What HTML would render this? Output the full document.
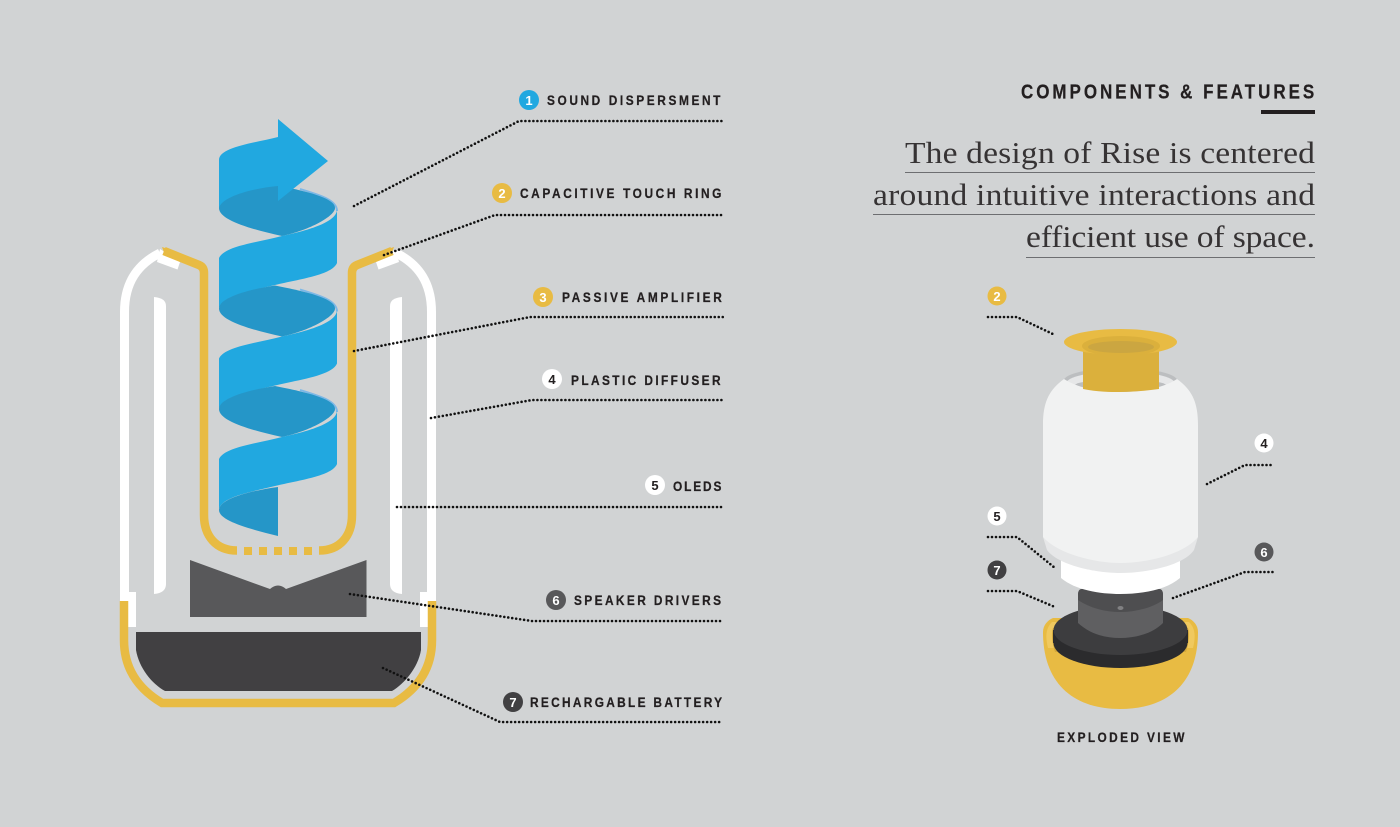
<!DOCTYPE html>
<html><head><meta charset="utf-8"><style>
html,body{margin:0;padding:0;background:#d1d3d4;width:1400px;height:827px;overflow:hidden}
svg{display:block}
.l{font-family:"Liberation Sans",sans-serif;font-weight:700;font-size:14px;fill:#231f20;stroke:#231f20;stroke-width:.25}
.s{font-family:"Liberation Serif",serif;font-size:30.500px;fill:#363334}
.n{font-family:"Liberation Sans",sans-serif;font-weight:700;font-size:13px;text-anchor:middle}
.d{fill:none;stroke:#111;stroke-width:2.6;stroke-linecap:round;stroke-dasharray:0 4}
</style></head><body>
<svg width="1400" height="827" viewBox="0 0 1400 827" xmlns="http://www.w3.org/2000/svg">
<rect width="1400" height="827" fill="#d1d3d4"/>

<!-- white outer shell -->
<g>
<path d="M124.5,601 L124.5,312 C124.5,282 138,264 160,253" fill="none" stroke="#fff" stroke-width="9"/>
<path d="M160,249 L180,262 L177.500,269.500 L157,262 Z" fill="#fff"/>
<path d="M154,297 Q166,298 166,306 L166,584 Q166,593 154,594 Z" fill="#fff"/>
<path d="M120,592 L136,592 L136,627 L127,627 L127,601 L120,601 Z" fill="#fff"/>
</g>
<g>
<path d="M431.500,601 L431.500,312 C431.500,282 418,264 396,253" fill="none" stroke="#fff" stroke-width="9"/>
<path d="M396,249 L376,262 L378.500,269.500 L399,262 Z" fill="#fff"/>
<path d="M402,297 Q390,298 390,306 L390,584 Q390,593 402,594 Z" fill="#fff"/>
<path d="M436,592 L420,592 L420,627 L429,627 L429,601 L436,601 Z" fill="#fff"/>
</g>

<!-- gold inner -->
<path d="M237,550.500 C216,550.500 204,536 204,515 L204,273 Q204,267 199,265 L164,251" fill="none" stroke="#e8bb43" stroke-width="8.500"/>
<path d="M319,550.500 C340,550.500 352,536 352,515 L352,273 Q352,267 357,265 L392,251" fill="none" stroke="#e8bb43" stroke-width="8.500"/>
<path d="M162,247 L168,249 L165,255 Z M394,247 L388,249 L391,255 Z" fill="#e8bb43"/>
<g fill="#e8bb43"><rect x="244" y="547" width="8" height="8"/><rect x="259" y="547" width="8" height="8"/><rect x="274" y="547" width="8" height="8"/><rect x="289" y="547" width="8" height="8"/><rect x="304" y="547" width="8" height="8"/></g>

<!-- gold base -->
<path d="M124,601 L124,640 C124,670 140,690 162,703 L394,703 C416,690 432,670 432,640 L432,601" fill="none" stroke="#e8bb43" stroke-width="8.500"/>

<!-- speaker, battery -->
<path d="M190,560 L270,589 Q278,582 286,589 L366.500,560 L366.500,617 L190,617 Z" fill="#58585a"/>
<path d="M136,632 L421,632 L421,650 C418,668 404,684 392,691 L165,691 C152,684 139,668 136,650 Z" fill="#414042"/>

<!-- spiral -->
<g>
<path d="M300,189 C320,195 337,200 337,211" fill="none" stroke="#7db8e6" stroke-width="2"/>
<path d="M219,208 C219,196 255,188 275,185 C300,190 335,197 335,208 C335,216 310,230 282,236 C250,229 219,220 219,208 Z" fill="#2596c8"/>
<path d="M337,210 C336,222 310,230 282,236 C255,243 225,246 219,258 L219,308 C222,296 250,291 275,285 C300,279 332,275 337,263 Z" fill="#21a8e0"/>
</g>
<g transform="translate(0,100.500)">
<path d="M300,189 C320,195 337,200 337,211" fill="none" stroke="#7db8e6" stroke-width="2"/>
<path d="M219,208 C219,196 255,188 275,185 C300,190 335,197 335,208 C335,216 310,230 282,236 C250,229 219,220 219,208 Z" fill="#2596c8"/>
<path d="M337,210 C336,222 310,230 282,236 C255,243 225,246 219,258 L219,308 C222,296 250,291 275,285 C300,279 332,275 337,263 Z" fill="#21a8e0"/>
</g>
<g transform="translate(0,201)">
<path d="M300,189 C320,195 337,200 337,211" fill="none" stroke="#7db8e6" stroke-width="2"/>
<path d="M219,208 C219,196 255,188 275,185 C300,190 335,197 335,208 C335,216 310,230 282,236 C250,229 219,220 219,208 Z" fill="#2596c8"/>
<path d="M337,210 C336,222 310,230 282,236 C255,243 225,246 219,258 L219,308 C222,296 250,291 275,285 C300,279 332,275 337,263 Z" fill="#21a8e0"/>
</g>
<path d="M219,510 C219,498 255,490 278,487 L278,536 C250,529 219,521 219,510 Z" fill="#2596c8"/>
<path d="M219,208 L219,160 C219,147 255,143 278,137 L278,119 L328,161 L278,201 L278,186 C255,188 222,196 219,208 Z" fill="#21a8e0"/>

<!-- left connectors -->
<path class="d" d="M354,206 L519,121 L723,121"/>
<path class="d" d="M384,255 L495,215 L723,215"/>
<path class="d" d="M354,351 L530,317 L723,317"/>
<path class="d" d="M431,418 L532,400 L723,400"/>
<path class="d" d="M397,507 L723,507"/>
<path class="d" d="M350,594 L532,621 L723,621"/>
<path class="d" d="M383,668 L500,722 L723,722"/>

<!-- left labels -->
<circle cx="529" cy="100" r="10" fill="#21a8e0"/><text class="n" x="529" y="105" fill="#fff">1</text>
<text class="l" transform="translate(547,105) scale(.85,1)" textLength="204">SOUND DISPERSMENT</text>
<circle cx="502" cy="193" r="10" fill="#e8bb43"/><text class="n" x="502" y="198" fill="#fff">2</text>
<text class="l" transform="translate(520,198) scale(.85,1)" textLength="237">CAPACITIVE TOUCH RING</text>
<circle cx="543" cy="297" r="10" fill="#e8bb43"/><text class="n" x="543" y="302" fill="#fff">3</text>
<text class="l" transform="translate(562,302) scale(.85,1)" textLength="188">PASSIVE AMPLIFIER</text>
<circle cx="552" cy="379" r="10" fill="#fff"/><text class="n" x="552" y="384" fill="#231f20">4</text>
<text class="l" transform="translate(571,385) scale(.85,1)" textLength="176">PLASTIC DIFFUSER</text>
<circle cx="655" cy="485" r="10" fill="#fff"/><text class="n" x="655" y="490" fill="#231f20">5</text>
<text class="l" transform="translate(673,491) scale(.85,1)" textLength="57">OLEDS</text>
<circle cx="556" cy="600" r="10" fill="#58585a"/><text class="n" x="556" y="605" fill="#fff">6</text>
<text class="l" transform="translate(574,605) scale(.85,1)" textLength="173">SPEAKER DRIVERS</text>
<circle cx="513" cy="702" r="10" fill="#414042"/><text class="n" x="513" y="707" fill="#fff">7</text>
<text class="l" transform="translate(530,707) scale(.85,1)" textLength="226">RECHARGABLE BATTERY</text>

<!-- heading -->
<text class="l" transform="translate(1021,98.500) scale(.85,1)" textLength="345" style="font-size:20px">COMPONENTS &amp; FEATURES</text>
<rect x="1261" y="110" width="54" height="4" fill="#231f20"/>
<text class="s" transform="translate(905,163) scale(1.1,1)" textLength="372.700">The design of Rise is centered</text>
<rect x="905" y="172" width="410" height="1" fill="#6d6e71"/>
<text class="s" transform="translate(873,205) scale(1.1,1)" textLength="401.800">around intuitive interactions and</text>
<rect x="873" y="214" width="442" height="1" fill="#6d6e71"/>
<text class="s" transform="translate(1026,247) scale(1.1,1)" textLength="262.700">efficient use of space.</text>
<rect x="1026" y="257" width="289" height="1" fill="#6d6e71"/>

<!-- exploded: gold base and discs -->
<path d="M1043,632 C1043,685 1075,709 1120,709 C1166,709 1198,685 1198,632 C1198,625 1193,620 1188,618 L1053,618 C1048,620 1043,625 1043,632 Z" fill="#e8bb43"/>
<path d="M1052,622 C1046,628 1045,636 1048,648 L1193,648 C1196,636 1195,628 1189,622 Z" fill="#f0c95f"/>
<path d="M1053,628 C1051,634 1052,642 1055,652 L1186,652 C1189,642 1190,634 1188,628 Z" fill="#d3a83c"/>
<ellipse cx="1120.500" cy="643" rx="67" ry="25" fill="#2b2b2d"/>
<path d="M1053,630 L1053,643 L1188,643 L1188,630 Z" fill="#2b2b2d"/>
<ellipse cx="1120.500" cy="630" rx="67" ry="25" fill="#3d3d3f"/>
<path d="M1078,595 Q1078,589 1082,589 L1159,589 Q1163,589 1163,595 L1163,623 C1152,634 1135,638 1120,638 C1105,638 1090,634 1078,623 Z" fill="#5f5f61"/>
<path d="M1078,595 Q1078,589 1082,589 L1159,589 Q1163,589 1163,595 L1163,600 C1152,608 1135,612 1120,612 C1105,612 1090,608 1078,600 Z" fill="#4e4e50"/>
<ellipse cx="1120.500" cy="608" rx="3" ry="2" fill="#808082"/>
<!-- white OLED ring -->
<path d="M1061,555 L1061,578 C1075,590 1100,594 1120,594 C1142,594 1166,590 1180,578 L1180,555 Z" fill="#fff"/>
<!-- ring at top of body -->
<ellipse cx="1120.500" cy="381" rx="57" ry="13" fill="#bcbec0"/>
<ellipse cx="1120.500" cy="383" rx="54" ry="11.500" fill="#e6e7e8"/>
<ellipse cx="1120.500" cy="387" rx="48" ry="8" fill="#bcbec0"/>
<!-- body -->
<path d="M1043,537 L1047,550 C1058,565 1095,573 1120,573 C1148,573 1184,565 1194,550 L1198,537 Z" fill="#e6e7e8"/>
<path d="M1043,537 C1058,554 1095,563 1120,563 C1148,563 1184,554 1198,537 L1198,425 C1198,402 1192,390 1177,379 C1165,387 1145,392 1120,392 C1097,392 1076,387 1064,379 C1049,390 1043,402 1043,425 Z" fill="#f1f2f2"/>
<!-- gold ring -->
<path d="M1083,345 L1083,389 C1098,392 1110,392 1120,392 C1132,392 1145,391 1159,389 L1159,345 Z" fill="#dbb03c"/>
<ellipse cx="1120.500" cy="342" rx="56.500" ry="13" fill="#e8bb43"/>
<ellipse cx="1121" cy="346" rx="39" ry="10" fill="#dbb03c"/>
<ellipse cx="1121" cy="347" rx="33" ry="6" fill="#cba641"/>

<!-- right connectors -->
<path class="d" d="M988,317 L1017,317 L1055,335"/>
<path class="d" d="M1207,484 L1245,465 L1274,465"/>
<path class="d" d="M988,537 L1017,537 L1055,568"/>
<path class="d" d="M988,591 L1017,591 L1055,607"/>
<path class="d" d="M1173,598 L1245,572 L1274,572"/>

<circle cx="997" cy="296" r="9.500" fill="#e8bb43"/><text class="n" x="997" y="301" fill="#fff">2</text>
<circle cx="1264" cy="443" r="9.500" fill="#fff"/><text class="n" x="1264" y="448" fill="#231f20">4</text>
<circle cx="997" cy="516" r="9.500" fill="#fff"/><text class="n" x="997" y="521" fill="#231f20">5</text>
<circle cx="997" cy="570" r="9.500" fill="#414042"/><text class="n" x="997" y="575" fill="#fff">7</text>
<circle cx="1264" cy="552" r="9.500" fill="#58585a"/><text class="n" x="1264" y="557" fill="#fff">6</text>
<text class="l" transform="translate(1057,742) scale(.85,1)" textLength="150">EXPLODED VIEW</text>
</svg>
</body></html>
